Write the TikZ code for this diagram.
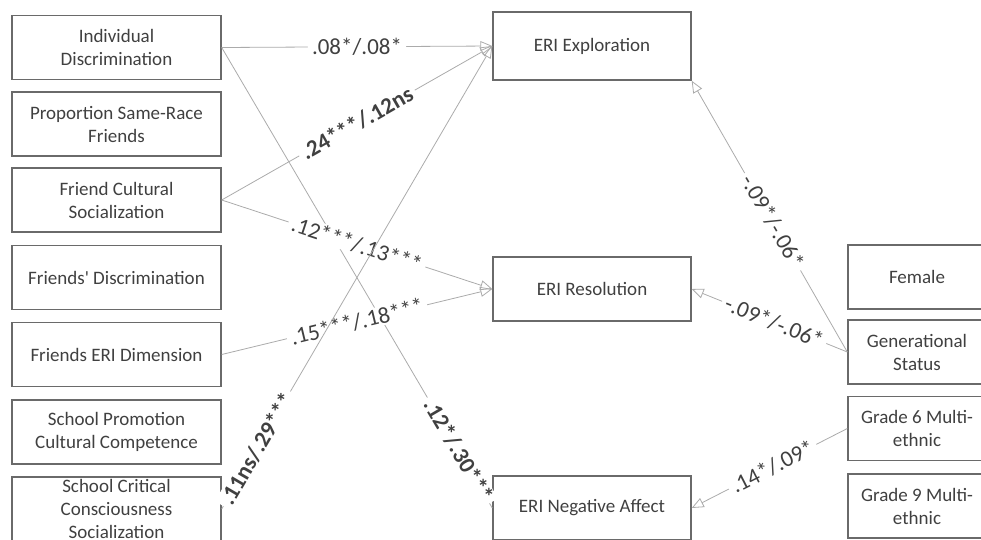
\documentclass[tikz,border=0pt]{standalone}
\usepackage{fontspec}
\setmainfont{Carlito}
\usetikzlibrary{arrows.meta}
\definecolor{boxline}{HTML}{6A6A6A}
\definecolor{linkline}{HTML}{ABABAB}
\definecolor{txt}{HTML}{404040}
\tikzset{
    box/.style={draw=boxline, line width=1.4pt, rectangle, minimum height=64pt, inner sep=0pt, align=center, text=txt, font=\fontsize{19}{23}\selectfont},
    pred/.style={box, minimum width=209pt},
    outc/.style={box, minimum width=198pt},
    ctrl/.style={box, minimum width=138pt},
    link/.style={draw=linkline, line width=0.8pt, -{Triangle[open, length=12pt, width=10pt]}},
    coef/.style={sloped, fill=white, inner xsep=4pt, inner ysep=1pt, text=txt, font=\fontsize{23}{27}\selectfont},
}

\begin{document}
\begin{tikzpicture}[x=1pt, y=-1pt]
        \useasboundingbox (0,0) rectangle (981,539);

        % Predictors
        \node[pred] (inddisc) at (116.5,47.5) {Individual\\Discrimination};
        \node[pred] (samerace) at (116.5,124) {Proportion Same-Race\\Friends};
        \node[pred] (friendcult) at (116.5,200) {Friend Cultural\\Socialization};
        \node[pred] (frienddisc) at (116.5,277.5) {Friends\textquotesingle{} Discrimination};
        \node[pred] (frienderi) at (116.5,354.5) {Friends ERI Dimension};
        \node[pred] (schoolprom) at (116.5,432) {School Promotion\\Cultural Competence};
        \node[pred] (schoolcrit) at (116.5,509) {School Critical\\Consciousness\\Socialization};

        % Outcomes
        \node[outc, minimum height=68pt] (explore) at (592,46) {ERI Exploration};
        \node[outc] (resolve) at (592,289) {ERI Resolution};
        \node[outc] (negaff) at (592,508) {ERI Negative Affect};

        % Controls
        \node[ctrl] (female) at (917,277) {Female};
        \node[ctrl] (gen) at (917,352) {Generational\\Status};
        \node[ctrl] (grsix) at (917,428.5) {Grade 6 Multi-\\ethnic};
        \node[ctrl] (grnine) at (917,506) {Grade 9 Multi-\\ethnic};

        % Paths from predictors
        \draw[link] (inddisc.east) -- node[coef, pos=0.5]{.08*/.08*} (explore.west);
        \draw[link, -] (inddisc.east) -- node[coef, pos=0.875]{\textbf{.12*/.30***}} (negaff.west);
        \draw[link] (friendcult.east) -- node[coef, pos=0.5]{\textbf{.24***/.12ns}} (explore.west);
        \draw[link] (friendcult.east) -- node[coef, pos=0.5]{.12***/.13***} (resolve.west);
        \draw[link] (frienderi.east) -- node[coef, pos=0.5]{.15***/.18***} (resolve.west);
        \draw[link] (schoolcrit.east) -- node[coef, pos=0.13]{\textbf{.11ns/.29***}} (explore.west);

        % Paths from controls
        \draw[link] (gen.west) -- node[coef, pos=0.48]{-.09*/-.06*} (explore.south east);
        \draw[link] (gen.west) -- node[coef, pos=0.47]{-.09*/-.06*} (resolve.east);
        \draw[link] (grsix.west) -- node[coef, pos=0.48]{.14*/.09*} (negaff.east);
\end{tikzpicture}
\end{document}
